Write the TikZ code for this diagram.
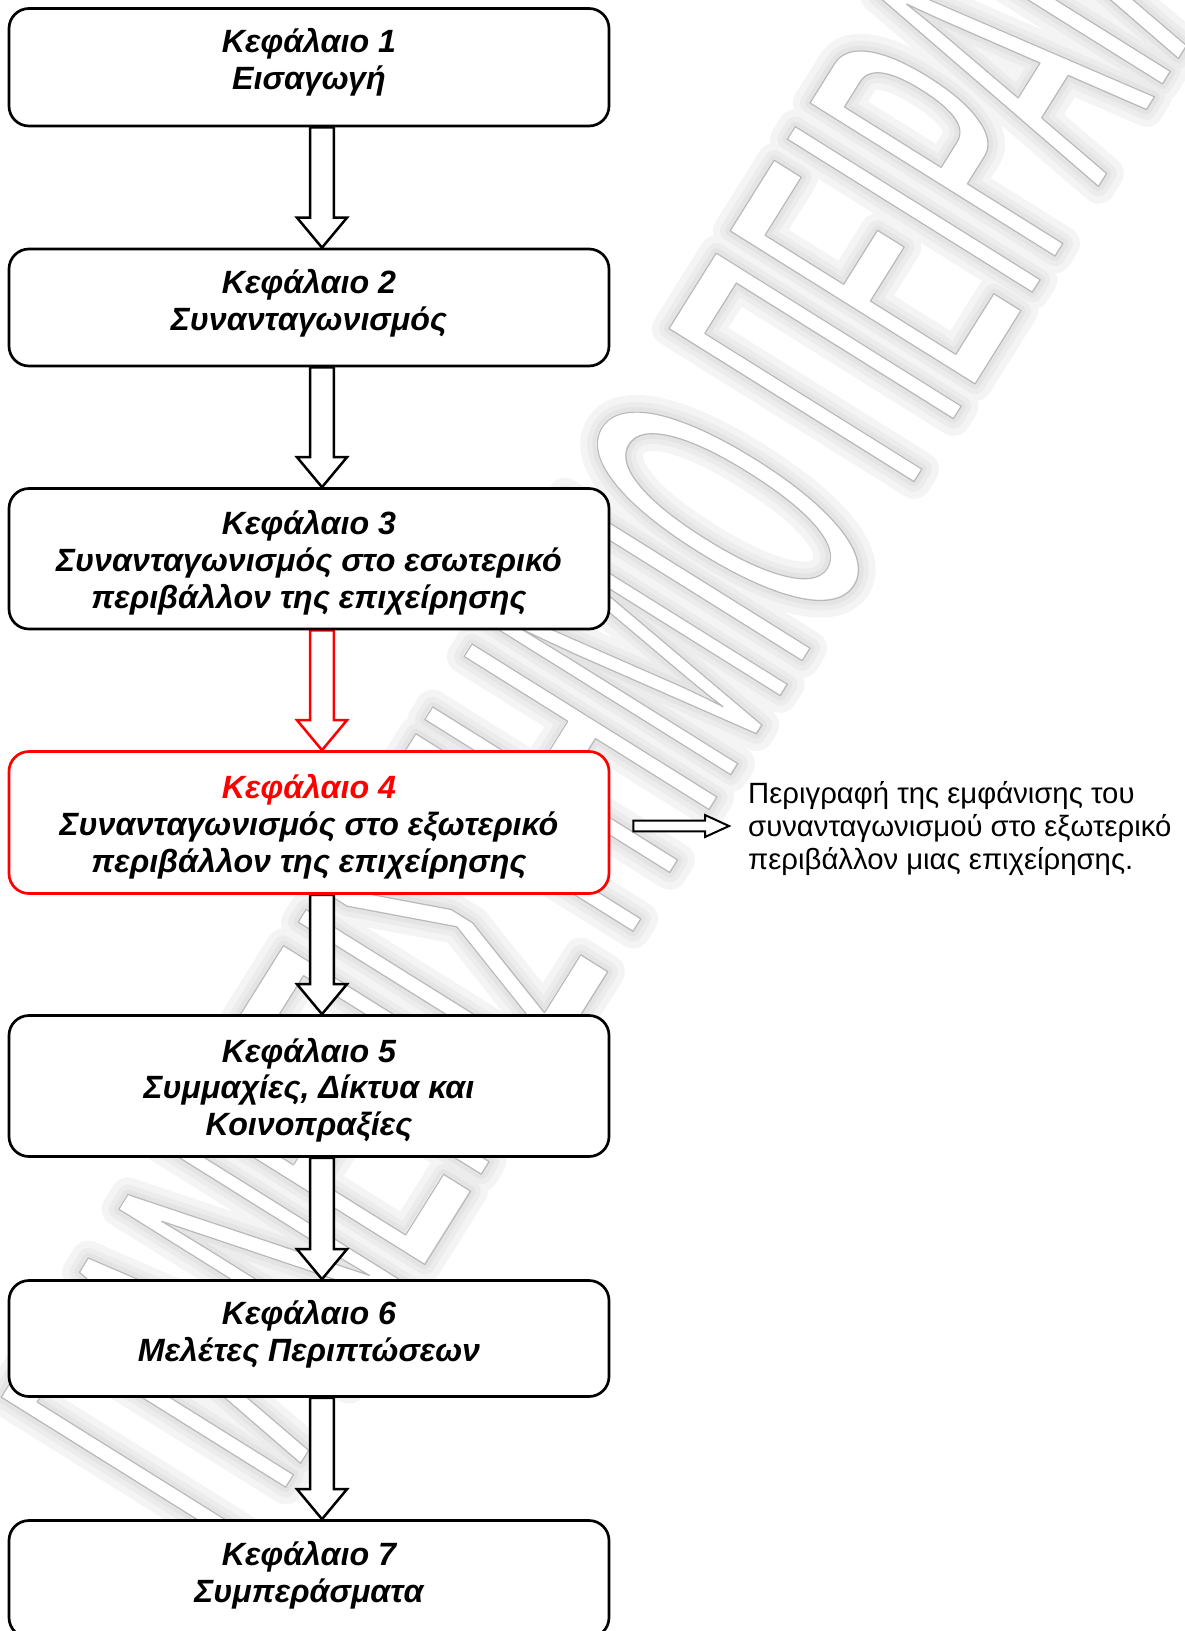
\documentclass[tikz,border=0pt]{standalone}
\usepackage{fontspec}
\setmainfont{Liberation Sans}
\newfontfamily\wmfont{Liberation Sans}[FakeStretch=0.38]
\usetikzlibrary{calc}

\pgfdeclarelayer{watermark}
\pgfdeclarelayer{connectors}
\pgfsetlayers{watermark,connectors,main}

% text set with a given PDF render mode (#2) and stroke width (#1)
\newcommand\rendertext[3]{\special{pdf:literal direct 1 j 1 J #1 w #2 Tr}#3\special{pdf:literal direct 0 Tr}}
\newcommand\wmstring{ΠΑΝΕΠΙΣΤΗΜΙΟ ΠΕΙΡΑΙΑ}

\tikzset{
  chapbox/.style={draw=black, line width=2.7pt, rounded corners=20pt, fill=white,
                  minimum width=600pt, inner sep=0pt},
  chaptext/.style={anchor=base, align=center, inner sep=0pt,
                   font=\bfseries\itshape\fontsize{32.2}{36.8}\selectfont},
  blockarrow/.style={draw=black, line width=2.5pt, fill=white, line join=miter},
  sidearrow/.style={draw=black, line width=2pt, fill=white, line join=miter},
  wmark/.style={anchor=base, rotate=58, inner sep=0pt,
                font=\wmfont\fontsize{420}{420}\selectfont},
}

% hollow block arrow from the bottom of one box to the top of the next
\newcommand\chainarrow[3][]{%
  \draw[blockarrow,#1] ($(#2.south)+(1.2,0)$) -- ($(#3.north)+(1.2,-30)$)
    -- ($(#3.north)+(-12,-30)$) -- ($(#3.north)+(13,0)$)
    -- ($(#3.north)+(38,-30)$) -- ($(#3.north)+(24.8,-30)$)
    -- ($(#2.south)+(24.8,0)$) -- cycle;}

\begin{document}
\begin{tikzpicture}[x=1pt,y=-1pt]
\useasboundingbox (0,0) rectangle (1185,1631);

% chapter boxes
\node[chapbox, minimum height=117.5pt] (b1) at (309,67.25) {};
\node[chapbox, minimum height=117pt]   (b2) at (309,307.5) {};
\node[chapbox, minimum height=140.5pt] (b3) at (309,558.75) {};
\node[chapbox, draw=red, minimum height=142pt] (b4) at (309,822.5) {};
\node[chapbox, minimum height=141pt]   (b5) at (309,1086) {};
\node[chapbox, minimum height=116pt]   (b6) at (309,1338.5) {};
\node[chapbox, minimum height=117pt]   (b7) at (309,1579) {};

% chapter titles (anchored at the baseline of their last line)
\node[chaptext] (t1) at ($(b1.north)+(0,82.5)$) {Κεφάλαιο 1\\Εισαγωγή};
\node[chaptext] (t2) at ($(b2.north)+(0,82.5)$) {Κεφάλαιο 2\\Συνανταγωνισμός};
\node[chaptext] (t3) at ($(b3.north)+(0,121)$) {Κεφάλαιο 3\\Συνανταγωνισμός στο εσωτερικό\\περιβάλλον της επιχείρησης};
\node[chaptext] (t4) at ($(b4.north)+(0,122)$) {{\color{red}Κεφάλαιο 4}\\Συνανταγωνισμός στο εξωτερικό\\περιβάλλον της επιχείρησης};
\node[chaptext] (t5) at ($(b5.north)+(0,121.5)$) {Κεφάλαιο 5\\Συμμαχίες, Δίκτυα και\\Κοινοπραξίες};
\node[chaptext] (t6) at ($(b6.north)+(0,82.5)$) {Κεφάλαιο 6\\Μελέτες Περιπτώσεων};
\node[chaptext] (t7) at ($(b7.north)+(0,83)$) {Κεφάλαιο 7\\Συμπεράσματα};

% description of chapter 4
\node[anchor=west, align=left, inner sep=0pt, font=\fontsize{29.3}{33}\selectfont] (desc) at (748,828)
  {Περιγραφή της εμφάνισης του\\συνανταγωνισμού στο εξωτερικό\\περιβάλλον μιας επιχείρησης.};

\begin{pgfonlayer}{connectors}
  \chainarrow{b1}{b2}
  \chainarrow{b2}{b3}
  \chainarrow[draw=red]{b3}{b4}
  \chainarrow{b4}{b5}
  \chainarrow{b5}{b6}
  \chainarrow{b6}{b7}
  \coordinate (sa) at ($(b4.east)+(23,3.5)$);
  \coordinate (st) at ($(b4.east -| desc.west)+(-19,3.5)$);
  \draw[sidearrow] ($(sa)+(0,-5.3)$) -- ($(st)+(-24,-5.3)$) -- ($(st)+(-24,-11)$) -- (st)
    -- ($(st)+(-24,11)$) -- ($(st)+(-24,5.3)$) -- ($(sa)+(0,5.3)$) -- cycle;
\end{pgfonlayer}

% outlined watermark lettering with a soft halo
\begin{pgfonlayer}{watermark}
  \fill[white] (0,0) rectangle (1185,1631);
  \node[wmark, text=gray!9]  (wmhaloA) at (737,765) {\rendertext{34}{2}{\wmstring}};
  \node[wmark, text=gray!15] (wmhaloB) at (737,765) {\rendertext{20}{2}{\wmstring}};
  \node[wmark, text=gray!21] (wmhaloC) at (737,765) {\rendertext{10}{2}{\wmstring}};
  \node[wmark, text=white]   (wmfill)  at (737,765) {\wmstring};
  \node[wmark, text=gray!55] (wmline)  at (737,765) {\rendertext{1.2}{1}{\wmstring}};
\end{pgfonlayer}
\end{tikzpicture}
\end{document}
